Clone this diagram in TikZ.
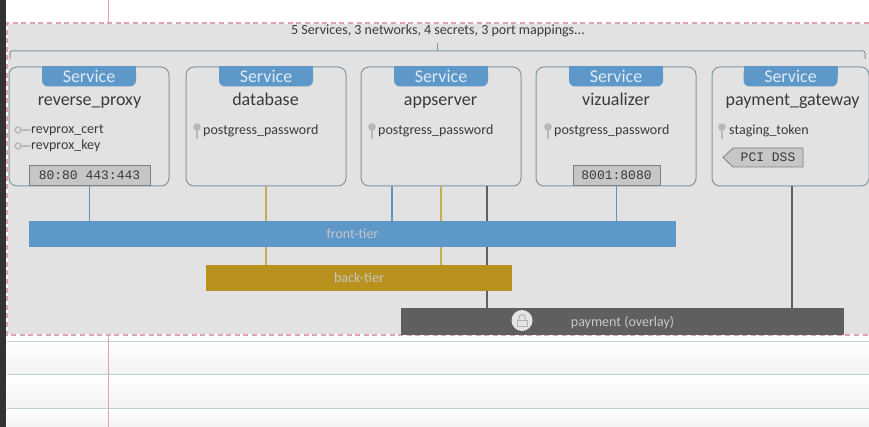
\documentclass[tikz,border=0pt]{standalone}
\usepackage{fontspec}
\setmainfont{Carlito}
\setmonofont{Liberation Mono}
\usetikzlibrary{calc}

\definecolor{sheetgray}{HTML}{E2E2E2}
\definecolor{boxline}{HTML}{7F96A6}
\definecolor{tierblue}{HTML}{5E98C9}
\definecolor{tiergold}{HTML}{B8911F}
\definecolor{tierdark}{HTML}{5F5F5F}
\definecolor{marginpink}{HTML}{E3A0B3}
\definecolor{ruleblue}{HTML}{BCD0D8}
\definecolor{portgray}{HTML}{C6C6C6}
\definecolor{textgray}{HTML}{3A3A3A}
\definecolor{keygray}{HTML}{B8B8B8}

\tikzset{
  servicebox/.style={draw=boxline, line width=1pt, rounded corners=8pt, minimum width=160pt, minimum height=119pt, inner sep=0pt},
  tablabel/.style={text=white!80!tierblue, inner sep=0pt, anchor=base, font=\fontsize{18}{18}\selectfont},
  svcname/.style={text=textgray, inner sep=0pt, anchor=base, font=\fontsize{18}{18}\selectfont},
  secretlabel/.style={text=textgray, inner sep=0pt, anchor=base west, font=\fontsize{14}{14}\selectfont},
  portlabel/.style={text=textgray, inner sep=0pt, font=\ttfamily\fontsize{13}{13}\selectfont},
  portbox/.style={portlabel, fill=portgray, draw=gray, line width=.8pt, minimum height=20pt},
  tierbar/.style={inner sep=0pt, minimum height=26pt, text height=11pt, text depth=1pt, text=white!78!black, font=\fontsize{14}{14}\selectfont},
  tierlink/.style={line width=1.4pt},
  keyicon/.style={draw=keygray, line width=1.4pt}
}

\newcommand{\keyup}[1]{%
  \fill[keygray] ($(#1)+(0,0)$) circle (3.8pt);
  \draw[keyicon, line width=2.6pt] ($(#1)+(0,2)$) -- ($(#1)+(0,12)$);
}
\newcommand{\keyside}[1]{%
  \draw[keyicon] ($(#1)+(0,0)$) circle (3pt);
  \draw[keyicon] ($(#1)+(3,0)$) -- ($(#1)+(12,0)$);
}

\begin{document}
\begin{tikzpicture}[x=1pt, y=-1pt]
  \useasboundingbox (0,0) rectangle (869,427);

  % FEUILLE
  \fill[white] (0,0) rectangle (869,427);
  \shade[top color=white, bottom color=black!5] (7,341) rectangle (869,374);
  \shade[top color=white, bottom color=black!5] (7,374) rectangle (869,408);
  \shade[top color=white, bottom color=black!5] (7,408) rectangle (869,427);
  \fill[sheetgray] (7,23) rectangle (869,335);
  \foreach \yrule in {341,374,408}
    \draw[ruleblue, line width=1pt] (7,\yrule) -- (869,\yrule);
  \draw[marginpink, line width=1pt] (108,0) -- (108,23);
  \draw[marginpink, line width=1pt] (108,335) -- (108,427);
  \draw[white, line width=1.5pt] (869,23) -- (7,23) -- (7,335) -- (869,335);
  \draw[marginpink, line width=1.5pt, dash pattern=on 5pt off 3.6pt] (869,23) -- (7,23) -- (7,335) -- (869,335);
  \fill[black!80] (0,0) rectangle (6,427);

  % ACCOLADE
  \node[text=textgray, inner sep=0pt, anchor=base, font=\fontsize{14}{14}\selectfont] (summary) at (438,34.5) {5 Services, 3 networks, 4 secrets, 3 port mappings...};
  \coordinate (bracetick) at (437,43);
  \draw[boxline, line width=1pt, rounded corners=2pt] (10,59) -- (10,51) -- (865,51) -- (865,59);
  \draw[boxline, line width=1pt] (bracetick) -- (437,51);

  % SERVICES
  \node[servicebox] (proxy) at (89,126.5) {};
  \node[servicebox] (database) at (266,126.5) {};
  \node[servicebox] (appserver) at (441,126.5) {};
  \node[servicebox] (vizualizer) at (616,126.5) {};
  \node[servicebox, minimum width=157pt] (gateway) at (790.5,126.5) {};

  % ONGLETS
  \foreach \svc in {proxy,database,appserver,vizualizer,gateway}{
    \fill[tierblue, rounded corners=6pt] ($(\svc.north)+(-47,0)$) rectangle ($(\svc.north)+(47,20)$);
    \fill[tierblue] ($(\svc.north)+(-47,0)$) rectangle ($(\svc.north)+(47,10)$);
    \node[tablabel] (tab\svc) at ($(\svc.north)+(0,16.5)$) {Service};
  }

  \node[svcname] (nameproxy) at (89.5,105.5) {reverse\_proxy};
  \node[svcname] (namedatabase) at (265.5,105.5) {database};
  \node[svcname] (nameappserver) at (440.5,105.5) {appserver};
  \node[svcname] (namevizualizer) at (616,105.5) {vizualizer};
  \node[svcname] (namegateway) at (792.5,105.5) {payment\_gateway};

  % SECRETS
  \node[secretlabel] (cert) at (31,133.5) {revprox\_cert};
  \node[secretlabel] (privkey) at (31,150) {revprox\_key};
  \node[secretlabel] (pgdatabase) at (203,135) {postgress\_password};
  \node[secretlabel] (pgappserver) at (378,135) {postgress\_password};
  \node[secretlabel] (pgvizualizer) at (554,134.5) {postgress\_password};
  \node[secretlabel] (staging) at (729,134.5) {staging\_token};

  \keyside{18,130}
  \keyside{18,146}
  \keyup{197,127}
  \keyup{372,127}
  \keyup{548,127}
  \keyup{722,127}

  % PORTS
  \node[portbox, minimum width=121pt] (portproxy) at (89.5,175.5) {80:80 443:443};
  \node[portbox, minimum width=87pt] (portviz) at (616.5,175) {8001:8080};
  \coordinate (pcicentre) at (768,157.5);
  \fill[portgray, draw=gray, line width=.8pt] ($(pcicentre)+(-35,-9.5)$) -- ($(pcicentre)+(-45,0)$) -- ($(pcicentre)+(-35,9.5)$) -- ($(pcicentre)+(35,9.5)$) -- ($(pcicentre)+(35,-9.5)$) -- cycle;
  \node[portlabel] (pci) at (pcicentre) {PCI DSS};

  % RESEAUX
  \node[tierbar, fill=tierblue, minimum width=647pt] (fronttier) at (352.5,234) {front-tier};
  \node[tierbar, fill=tiergold, minimum width=306pt] (backtier) at (359,278) {back-tier};
  \node[tierbar, fill=tierdark, minimum width=443pt, minimum height=27pt] (payment) at (622.5,321.5) {payment (overlay)};

  % CADENAS
  \node[circle, fill=white!90!black, minimum size=21pt, inner sep=0pt] (lock) at (522,320.5) {};
  \draw[black!30, line width=1pt] ($(lock)+(-3,0)$) -- ($(lock)+(-3,-3)$) arc (180:360:3) -- ($(lock)+(3,0)$);
  \draw[black!30, line width=1pt] ($(lock)+(-5,0)$) rectangle ($(lock)+(5,6)$);

  % LIENS
  \coordinate (appfront) at (392,186);
  \coordinate (apppay) at (487,186);
  \coordinate (gatepay) at (792,186);
  \draw[tierlink, tierblue!85!gray] (portproxy.south) -- (portproxy.south |- fronttier.north);
  \draw[tierlink, tiergold!75!white] (database.south) -- (database.south |- fronttier.north);
  \draw[tierlink, tiergold!75!white] (database.south |- fronttier.south) -- (database.south |- backtier.north);
  \draw[tierlink, tierblue!85!gray] (appfront) -- (appfront |- fronttier.north);
  \draw[tierlink, tiergold!75!white] (appserver.south) -- (appserver.south |- fronttier.north);
  \draw[tierlink, tiergold!75!white] (appserver.south |- fronttier.south) -- (appserver.south |- backtier.north);
  \draw[tierlink, tierdark] (apppay) -- (apppay |- fronttier.north);
  \draw[tierlink, tierdark] (apppay |- fronttier.south) -- (apppay |- backtier.north);
  \draw[tierlink, tierdark] (apppay |- backtier.south) -- (apppay |- payment.north);
  \draw[tierlink, tierblue!85!gray] (portviz.south) -- (portviz.south |- fronttier.north);
  \draw[tierlink, tierdark] (gatepay) -- (gatepay |- payment.north);
\end{tikzpicture}
\end{document}
